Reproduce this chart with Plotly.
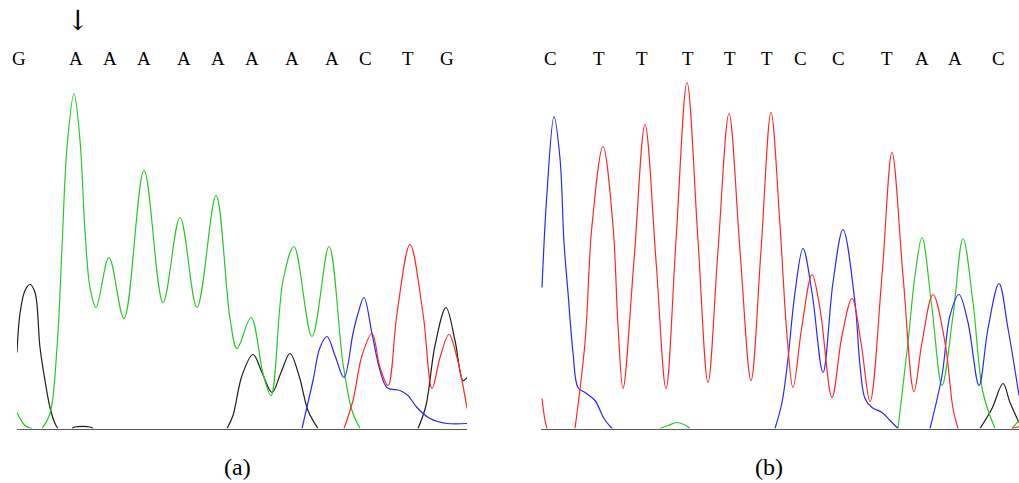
import plotly.graph_objects as go

# ---- Panel (a): trace channels, scan position vs. signal ----
# None splits a channel where it lies flat on the baseline
a_black_scan = [0, 3, 8, 13, 18, 23, 28, 33, 38, 41, None, 55, 58, 73, 76, None, 210, 216, 225, 236, 245, 255, 264, 273, 282, 291, 301, None, 401, 409, 418, 429, 438, 446, 450]
a_black_sig = [76, 115, 138, 144, 136, 81, 48, 21, 5, 0, None, 0, 1.5, 1.5, 0, None, 0, 13, 53, 74, 56, 36, 56, 75, 53, 18, 0, None, 0, 23, 83, 121, 88, 48, 51]

a_green_scan = [0, 8, 15, None, 25, 33, 40, 45, 50, 57, 63, 68, 73, 79, 92, 107, 127, 146, 163, 180, 199, 213, 220, 234, 246, 254, 266, 277, 295, 312, 326, 335, 343]
a_green_sig = [16, 3, 0, None, 0, 15, 81, 181, 281, 335, 288, 198, 141, 121, 171, 110, 258, 126, 211, 121, 233, 110, 80, 111, 55, 33, 148, 182, 92, 182, 65, 18, 0]

a_blue_scan = [285, 296, 303, 310, 318, 327, 336, 341, 347, 355, 363, 370, 383, 391, 400, 413, 430, 450]
a_blue_sig = [0, 48, 81, 92, 73, 51, 95, 115, 131, 95, 58, 41, 38, 33, 21, 10, 5, 5]

a_red_scan = [327, 336, 345, 355, 363, 371, 380, 393, 406, 415, 423, 432, 440, 450]
a_red_sig = [0, 28, 73, 95, 61, 43, 115, 184, 115, 40, 71, 94, 71, 20]

a_bases = ["G", "A", "A", "A", "A", "A", "A", "A", "A", "C", "T", "G"]
a_base_scan = [2, 59, 93, 127, 167, 201, 235, 275, 315, 348, 391, 430]
a_marker_scan = 60.5

# ---- Panel (b) ----
b_blue_scan = [1, 6, 13, 19, 23, 27, 32, 37, 44, 54, 63, 71, None, 234, 241, 247, 254, 262, 271, 282, 292, 302, 314, 319, 324, 331, 341, 349, 357, None, 389, 401, 409, 418, 427, 438, 447, 458, 467, 478]
b_blue_sig = [141, 236, 312, 270, 186, 136, 76, 41, 36, 28, 10, 0, None, 0, 26, 70, 136, 180, 136, 56, 146, 199, 126, 63, 30, 21, 16, 8, 0, None, 0, 53, 113, 134, 106, 43, 100, 145, 100, 33]

b_red_scan = [1, 4, 6, None, 34, 44, 51, 62, 72, 77, 82, 93, 104, 115, 125, 135, 146, 157, 167, 177, 188, 199, 210, 220, 230, 239, 246, 252, 261, 271, 279, 291, 301, 311, 320, 329, 341, 351, 362, 373, 381, 392, 404, 412, 417, None, 471, 478]
b_red_sig = [30, 8, 0, None, 0, 86, 203, 282, 203, 103, 40, 168, 304, 168, 40, 188, 346, 188, 46, 178, 315, 178, 48, 178, 316, 203, 93, 41, 103, 154, 120, 31, 93, 130, 86, 27, 153, 276, 153, 37, 86, 134, 86, 20, 0, None, 0, 2]

b_green_scan = [119, 127, 136, 145, 149, None, 357, 367, 374, 381, 391, 401, 412, 422, 432, 442, 454, None, 471, 478]
b_green_sig = [0, 3, 6, 3, 0, None, 0, 86, 153, 191, 120, 43, 113, 190, 126, 36, 0, None, 0, 8]

b_black_scan = [439, 451, 462, 469, 478]
b_black_sig = [0, 20, 45, 26, 6]

b_bases = ["C", "T", "T", "T", "T", "T", "C", "C", "T", "A", "A", "C"]
b_base_scan = [9, 58, 101, 147, 189, 226, 259, 297, 346, 381, 414, 457]

COLORS = {
    "A": "rgb(40,200,40)",
    "C": "rgb(40,40,255)",
    "G": "rgb(30,30,30)",
    "T": "rgb(255,40,40)",
}

fig = go.Figure()


def add_channel(scan, sig, color, xa, ya):
    fig.add_trace(go.Scatter(
        x=scan, y=sig, mode="lines", connectgaps=False,
        line=dict(color=color, width=1.2, shape="spline", smoothing=1.0),
        xaxis=xa, yaxis=ya, hoverinfo="skip", showlegend=False,
    ))


add_channel(a_black_scan, a_black_sig, COLORS["G"], "x", "y")
add_channel(a_green_scan, a_green_sig, COLORS["A"], "x", "y")
add_channel(a_blue_scan, a_blue_sig, COLORS["C"], "x", "y")
add_channel(a_red_scan, a_red_sig, COLORS["T"], "x", "y")

add_channel(b_black_scan, b_black_sig, COLORS["G"], "x2", "y2")
add_channel(b_green_scan, b_green_sig, COLORS["A"], "x2", "y2")
add_channel(b_blue_scan, b_blue_sig, COLORS["C"], "x2", "y2")
add_channel(b_red_scan, b_red_sig, COLORS["T"], "x2", "y2")

W, H = 1019, 483
y_dom = [(H - 428.5) / H, (H - 78.5) / H]

axis_common = dict(showgrid=False, zeroline=False, showticklabels=False, ticks="")
fig.update_layout(
    width=W, height=H,
    margin=dict(l=0, r=0, t=0, b=0),
    paper_bgcolor="white", plot_bgcolor="white",
    xaxis=dict(domain=[17 / W, 467 / W], range=[0, 450], showline=True,
               linecolor="rgb(90,90,90)", linewidth=1, layer="above traces", **axis_common),
    yaxis=dict(domain=y_dom, range=[0, 350], showline=False, **axis_common),
    xaxis2=dict(domain=[541 / W, 1.0], range=[0, 478], showline=True,
                linecolor="rgb(90,90,90)", linewidth=1, layer="above traces",
                anchor="y2", **axis_common),
    yaxis2=dict(domain=y_dom, range=[0, 350], showline=False, anchor="x2", **axis_common),
)

base_font = dict(family="Liberation Serif, Times New Roman, serif", size=19, color="black")
base_y = (H - 59) / H

for b, s in zip(a_bases, a_base_scan):
    fig.add_annotation(x=s, y=base_y, xref="x", yref="paper", text=b, showarrow=False,
                       font=base_font, xanchor="center", yanchor="middle")
for b, s in zip(b_bases, b_base_scan):
    fig.add_annotation(x=s, y=base_y, xref="x2", yref="paper", text=b, showarrow=False,
                       font=base_font, xanchor="center", yanchor="middle")

# mutation marker above panel (a)
fig.add_annotation(x=a_marker_scan, y=(H - 21) / H, xref="x", yref="paper", text="↓",
                   showarrow=False, xanchor="center", yanchor="middle",
                   font=dict(family="DejaVu Serif, serif", size=28, color="black"))

cap_font = dict(family="Liberation Serif, Times New Roman, serif", size=24, color="black")
fig.add_annotation(x=237 / W, y=(H - 467) / H, xref="paper", yref="paper", text="(a)",
                   showarrow=False, font=cap_font, xanchor="center", yanchor="middle")
fig.add_annotation(x=769 / W, y=(H - 467) / H, xref="paper", yref="paper", text="(b)",
                   showarrow=False, font=cap_font, xanchor="center", yanchor="middle")

fig.write_html("out.html")
